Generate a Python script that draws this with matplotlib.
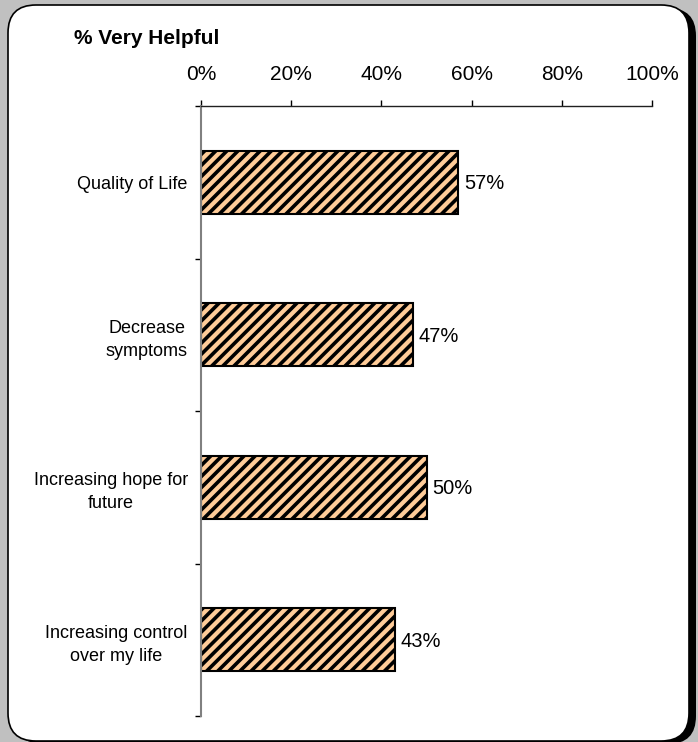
import matplotlib
matplotlib.use("Agg")
import matplotlib.pyplot as plt
from matplotlib.patches import FancyBboxPatch
from matplotlib.ticker import FixedLocator, PercentFormatter
import numpy as np

plt.rcParams['font.family'] = ['Liberation Sans', 'DejaVu Sans']
plt.rcParams['hatch.linewidth'] = 2.6

# Data
categories = ["Quality of Life", "Decrease\nsymptoms",
              "Increasing hope for\nfuture", "Increasing control\nover my life"]
values = [57, 47, 50, 43]
x_ticks = [0, 20, 40, 60, 80, 100]

W, H = 698, 742
fig = plt.figure(figsize=(W / 100, H / 100), dpi=100)
fig.patch.set_facecolor('#c0c0c0')

# Rounded frame, with a black shadow showing on the right
fx0, fx1, ftop, fbot = 8, 689, 5, 741
shadow = FancyBboxPatch(((fx0 + 7) / W, (H - fbot - 3) / H), (fx1 - fx0) / W,
                        (fbot - ftop) / H,
                        boxstyle="round,pad=0,rounding_size=0.04",
                        transform=fig.transFigure, facecolor='black',
                        edgecolor='none', zorder=0, mutation_aspect=W / H)
fig.patches.append(shadow)
frame = FancyBboxPatch((fx0 / W, (H - fbot) / H), (fx1 - fx0) / W,
                       (fbot - ftop) / H,
                       boxstyle="round,pad=0,rounding_size=0.04",
                       transform=fig.transFigure, facecolor='white',
                       edgecolor='black', linewidth=1.2, zorder=1,
                       mutation_aspect=W / H)
fig.patches.append(frame)

ax = fig.add_axes([201 / W, 1 - 716 / H, (652 - 201) / W, (716 - 106) / H])
ax.set_facecolor('none')
ax.set_zorder(2)

ypos = np.arange(len(categories))
ax.barh(ypos, values, height=0.41, color='#ffcc99', edgecolor='black',
        linewidth=1.5, hatch='///')

for y, v in zip(ypos, values):
    ax.text(v + 1.3, y + 0.01, "{0}%".format(v), va='center', ha='left',
            fontsize=14.5)

ax.set_xlim(0, 100)
ax.set_ylim(len(categories) - 0.5, -0.5)

ax.xaxis.tick_top()
ax.set_xticks(x_ticks)
ax.xaxis.set_major_formatter(PercentFormatter(decimals=0))
ax.tick_params(axis='x', direction='out', length=4.5, width=1, pad=11,
               labelsize=15, colors='black')

ax.set_yticks(ypos)
ax.set_yticklabels(categories, fontsize=13, ha='right', multialignment='center',
                   linespacing=1.45)
ax.tick_params(axis='y', which='major', length=0, pad=9.5)
ax.yaxis.set_minor_locator(FixedLocator(np.arange(-0.5, len(categories), 1.0)))
ax.tick_params(axis='y', which='minor', length=4.5, width=1, color='black')

ax.spines['bottom'].set_visible(False)
ax.spines['right'].set_visible(False)
ax.spines['left'].set_color('#808080')
ax.spines['left'].set_linewidth(1.5)
ax.spines['top'].set_color('#202020')
ax.spines['top'].set_linewidth(1)

fig.text(147 / W, 1 - 38 / H, "% Very Helpful", ha='center', va='center',
         fontsize=15, fontweight='bold', zorder=3)

plt.savefig("out.png", dpi=100, facecolor=fig.get_facecolor())
